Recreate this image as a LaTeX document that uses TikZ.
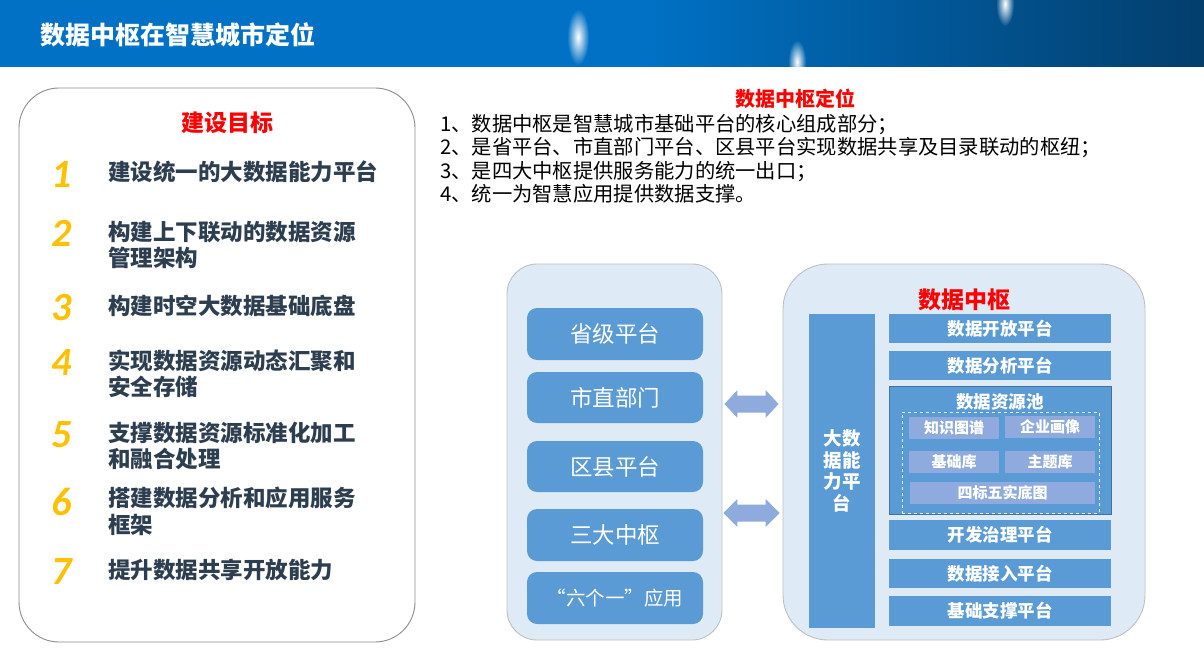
\documentclass[tikz,border=0pt]{standalone}
\usepackage{fontspec}
\setmainfont{Noto Sans CJK SC}
\newfontfamily\numfont{Carlito}
\usetikzlibrary{calc,fadings}
\definecolor{hdrL}{HTML}{0071C4}
\definecolor{hdrR}{HTML}{033E6C}
\definecolor{redt}{HTML}{FF0000}
\definecolor{itemcol}{HTML}{2C3E50}
\definecolor{numcol}{HTML}{FFC000}
\definecolor{panelfill}{HTML}{DEEBF7}
\definecolor{panelline}{HTML}{BFBFBF}
\definecolor{boxfill}{HTML}{5B9BD5}
\definecolor{boxline}{HTML}{41719C}
\definecolor{subfill}{HTML}{8FAADC}
\tikzfading[name=glowfade, inner color=transparent!0, outer color=transparent!100]
\begin{document}
\begin{tikzpicture}[x=1pt,y=1pt,
  redtitle/.style={text=redt, font=\fontsize{23}{26}\selectfont\bfseries, inner sep=0},
  numstyle/.style={text=numcol, font=\numfont\fontsize{40}{40}\bfseries\itshape\selectfont, inner sep=0},
  itemtext/.style={anchor=west, text=itemcol, align=left, inner sep=0, font=\fontsize{22.5}{26.5}\bfseries\selectfont},
  panel/.style={draw=panelline, fill=panelfill, line width=0.9pt},
  midbox/.style={fill=boxfill, rounded corners=10pt, minimum width=176pt, text=white, inner sep=0, font=\fontsize{22.5}{26}\selectfont},
  platbox/.style={fill=boxfill, minimum width=222pt, text=white, inner sep=0, font=\fontsize{17.5}{20}\bfseries\selectfont},
  subbox/.style={fill=subfill, minimum height=22pt, text=white, inner sep=0, font=\fontsize{15}{18}\bfseries\selectfont},
  arrowfill/.style={fill=subfill}
]
\useasboundingbox (0,0) rectangle (1204,-663);
% header
\fill[hdrL] (0,0) rectangle (650,-67);
\shade[left color=hdrL, right color=hdrR] (649.5,0) rectangle (1204,-67);
\begin{scope}
  \clip (0,0) rectangle (1204,-67);
  \fill[white, path fading=glowfade] (578,-37) ellipse (11 and 28);
  \fill[white, path fading=glowfade] (797,-62) ellipse (9 and 22);
  \fill[white, path fading=glowfade] (1005,-4) ellipse (9 and 22);
\end{scope}
\node[anchor=west, text=white, inner sep=0, font=\fontsize{25}{30}\bfseries\selectfont] (title) at (40,-35) {数据中枢在智慧城市定位};

% left panel
\node[draw=gray!90, fill=white, line width=0.9pt, rounded corners=40pt, minimum width=396pt, minimum height=554pt] (leftpanel) at (217,-365) {};
\node[redtitle] (goal) at (227,-123) {建设目标};
\node[numstyle] (n1) at (62,-175) {1};
\node[numstyle] (n2) at (62,-233) {2};
\node[numstyle] (n3) at (62,-308) {3};
\node[numstyle] (n4) at (62,-363) {4};
\node[numstyle] (n5) at (62,-435) {5};
\node[numstyle] (n6) at (62,-502) {6};
\node[numstyle] (n7) at (62,-572) {7};
\node[itemtext] (i1) at (108,-172) {建设统一的大数据能力平台};
\node[itemtext] (i2) at (108,-245) {构建上下联动的数据资源\\管理架构};
\node[itemtext] (i3) at (108,-306) {构建时空大数据基础底盘};
\node[itemtext] (i4) at (108,-374) {实现数据资源动态汇聚和\\安全存储};
\node[itemtext] (i5) at (108,-446) {支撑数据资源标准化加工\\和融合处理};
\node[itemtext] (i6) at (108,-511.5) {搭建数据分析和应用服务\\框架};
\node[itemtext] (i7) at (108,-570) {提升数据共享开放能力};

% positioning text
\node[redtitle, font=\fontsize{20}{24}\bfseries\selectfont] (postitle) at (795,-99) {数据中枢定位};
\node[anchor=west, align=left, inner sep=0, text=black, font=\fontsize{20.3}{23.5}\selectfont] (poslines) at (440,-159)
 {1、数据中枢是智慧城市基础平台的核心组成部分；\\
  2、是省平台、市直部门平台、区县平台实现数据共享及目录联动的枢纽；\\
  3、是四大中枢提供服务能力的统一出口；\\
  4、统一为智慧应用提供数据支撑。};

% middle panel
\node[panel, rounded corners=30pt, minimum width=215pt, minimum height=376pt] (mid) at (614.5,-452) {};
\node[midbox, minimum height=52pt] (m1) at (615,-334) {省级平台};
\node[midbox, minimum height=51pt] (m2) at (615,-397.5) {市直部门};
\node[midbox, minimum height=51pt] (m3) at (615,-466.5) {区县平台};
\node[midbox, minimum height=52pt] (m4) at (615,-535) {三大中枢};
\node[midbox, minimum height=52pt, font=\fontsize{19.5}{22}\selectfont] (m5) at (615,-598) {“六个一”应用};

% right panel
\node[panel, rounded corners=45pt, minimum width=362pt, minimum height=376pt] (right) at (964,-452) {};
\node[redtitle] (hub) at (964,-300) {数据中枢};
\node[fill=boxfill, minimum width=66pt, minimum height=314pt, inner sep=0, text=white, align=center, font=\fontsize{18.5}{21.5}\bfseries\selectfont] (bar) at (842,-471) {大数\\据能\\力平\\台};
\node[platbox, minimum height=29pt] (pA) at (1000,-328.5) {数据开放平台};
\node[platbox, minimum height=29pt] (pB) at (1000,-365.5) {数据分析平台};
\node[fill=boxfill, draw=boxline, line width=0.9pt, minimum width=222pt, minimum height=128pt, inner sep=0] (pool) at (1000,-450) {};
\node[text=white, inner sep=0, font=\fontsize{17.5}{20}\bfseries\selectfont] (pooltitle) at (1000,-402) {数据资源池};
\node[draw=white!85!boxfill, dashed, line width=0.6pt, minimum width=197pt, minimum height=101pt, inner sep=0] (dash) at (1000.5,-462.5) {};
\node[subbox, minimum width=90pt] (s1) at (954,-428) {知识图谱};
\node[subbox, minimum width=90pt] (s2) at (1050,-427) {企业画像};
\node[subbox, minimum width=90pt] (s3) at (954,-462) {基础库};
\node[subbox, minimum width=90pt] (s4) at (1050,-462) {主题库};
\node[subbox, minimum width=185pt] (s5) at (1002.5,-493) {四标五实底图};
\node[platbox, minimum height=30pt] (pC) at (1000,-535) {开发治理平台};
\node[platbox, minimum height=29pt] (pD) at (1000,-573.5) {数据接入平台};
\node[platbox, minimum height=30pt] (pE) at (1000,-611) {基础支撑平台};

% double arrows
\coordinate (a1l) at ($(mid.east |- 0,-404)+(2,0)$);
\coordinate (a1r) at ($(right.west |- 0,-404)+(-4,0)$);
\coordinate (a2l) at ($(mid.east |- 0,-513)+(1,0)$);
\coordinate (a2r) at ($(right.west |- 0,-513)+(-3,0)$);
\fill[arrowfill] (a1l) -- ++(13,14) -- ++(0,-5.5) -- ($(a1r)+(-13,8.5)$) -- ++(0,5.5) -- (a1r) -- ++(-13,-14) -- ++(0,5.5) -- ($(a1l)+(13,-8.5)$) -- ++(0,-5.5) -- cycle;
\fill[arrowfill] (a2l) -- ++(14,14) -- ++(0,-5.5) -- ($(a2r)+(-14,8.5)$) -- ++(0,5.5) -- (a2r) -- ++(-14,-14) -- ++(0,5.5) -- ($(a2l)+(14,-8.5)$) -- ++(0,-5.5) -- cycle;
\end{tikzpicture}
\end{document}
